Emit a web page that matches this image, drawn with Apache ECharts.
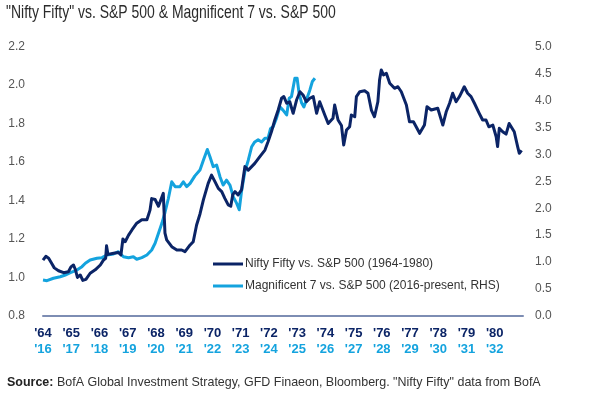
<!DOCTYPE html>
<html>
<head>
<meta charset="utf-8">
<script src="https://cdn.jsdelivr.net/npm/echarts@6/dist/echarts.min.js"></script>
<style>
html,body{margin:0;padding:0;background:#fff;}
#chart{width:590px;height:397px;}
</style>
</head>
<body>
<div id="chart"></div>
<script>
// ---- data ----
const niftyDates = [1964.00,1964.10,1964.20,1964.30,1964.40,1964.55,1964.73,1964.90,1964.99,1965.08,1965.15,1965.22,1965.32,1965.41,1965.52,1965.67,1965.85,1966.03,1966.14,1966.22,1966.25,1966.30,1966.50,1966.67,1966.76,1966.83,1966.91,1967.03,1967.15,1967.32,1967.50,1967.68,1967.79,1967.85,1967.97,1968.09,1968.15,1968.26,1968.32,1968.38,1968.56,1968.74,1968.91,1969.03,1969.21,1969.32,1969.44,1969.56,1969.68,1969.85,1969.97,1970.09,1970.21,1970.33,1970.44,1970.56,1970.65,1970.72,1970.80,1970.91,1971.03,1971.15,1971.27,1971.39,1971.50,1971.68,1971.86,1971.97,1972.09,1972.21,1972.33,1972.45,1972.53,1972.63,1972.74,1972.86,1972.98,1973.10,1973.21,1973.33,1973.45,1973.57,1973.69,1973.80,1973.98,1974.10,1974.27,1974.33,1974.45,1974.57,1974.65,1974.75,1974.86,1974.92,1975.04,1975.10,1975.22,1975.39,1975.51,1975.63,1975.74,1975.86,1975.92,1975.98,1976.06,1976.16,1976.28,1976.45,1976.57,1976.69,1976.87,1976.98,1977.12,1977.34,1977.51,1977.60,1977.75,1977.98,1978.04,1978.16,1978.28,1978.40,1978.51,1978.63,1978.75,1978.92,1979.04,1979.16,1979.28,1979.45,1979.57,1979.69,1979.79,1979.93,1980.05,1980.10,1980.16,1980.28,1980.40,1980.51,1980.69,1980.81,1980.87,1980.95];
const niftyValues = [1.09,1.11,1.10,1.075,1.05,1.035,1.025,1.03,1.055,1.065,1.04,1.00,1.013,0.985,0.99,1.022,1.04,1.065,1.09,1.10,1.165,1.12,1.126,1.13,1.117,1.20,1.186,1.22,1.247,1.282,1.30,1.30,1.35,1.41,1.405,1.37,1.377,1.437,1.23,1.195,1.16,1.143,1.143,1.134,1.169,1.186,1.273,1.33,1.403,1.489,1.532,1.498,1.463,1.446,1.411,1.377,1.37,1.43,1.446,1.429,1.455,1.576,1.558,1.576,1.593,1.628,1.662,1.705,1.757,1.818,1.87,1.931,1.94,1.905,1.913,1.853,1.922,1.965,1.948,1.913,1.931,1.94,1.853,1.913,1.844,1.80,1.827,1.896,1.818,1.79,1.688,1.766,1.783,1.844,1.835,1.94,1.965,1.97,1.957,1.87,1.835,1.913,2.026,2.078,2.052,2.061,2.009,1.983,1.991,1.965,1.896,1.809,1.809,1.749,1.792,1.887,1.87,1.879,1.87,1.792,1.861,1.905,1.957,1.913,1.94,1.991,1.957,1.94,1.905,1.853,1.818,1.818,1.783,1.792,1.731,1.68,1.775,1.757,1.745,1.80,1.757,1.68,1.645,1.66];

const mag7Dates = [2016.00,2016.14,2016.37,2016.61,2016.79,2016.97,2017.20,2017.38,2017.50,2017.67,2017.91,2018.09,2018.26,2018.50,2018.67,2018.85,2019.03,2019.20,2019.32,2019.50,2019.68,2019.85,2019.97,2020.09,2020.21,2020.32,2020.44,2020.56,2020.68,2020.85,2020.97,2021.09,2021.21,2021.38,2021.56,2021.68,2021.82,2021.91,2022.03,2022.15,2022.27,2022.38,2022.50,2022.62,2022.74,2022.86,2022.95,2023.03,2023.15,2023.27,2023.39,2023.50,2023.62,2023.74,2023.86,2023.97,2024.06,2024.15,2024.27,2024.39,2024.50,2024.63,2024.72,2024.80,2024.92,2025.00,2025.07,2025.16,2025.24,2025.33,2025.45,2025.54,2025.63];
const mag7Values = [0.668,0.655,0.70,0.729,0.76,0.803,0.853,0.915,0.978,1.039,1.07,1.082,1.132,1.15,1.193,1.10,1.082,1.10,1.052,1.082,1.132,1.225,1.349,1.534,1.72,1.92,2.18,2.49,2.40,2.40,2.49,2.40,2.46,2.60,2.71,2.89,3.09,2.96,2.77,2.80,2.58,2.43,2.52,2.43,2.21,2.09,1.97,2.31,2.68,2.89,3.14,3.23,3.27,3.23,3.30,3.30,3.48,3.51,3.67,3.88,3.82,3.73,4.04,4.07,4.41,4.41,4.13,3.95,3.88,4.01,4.19,4.35,4.41];

const niftyTickLabels = ["'64","'65","'66","'67","'68","'69","'70","'71","'72","'73","'74","'75","'76","'77","'78","'79","'80"];
const mag7TickLabels  = ["'16","'17","'18","'19","'20","'21","'22","'23","'24","'25","'26","'27","'28","'29","'30","'31","'32"];

const titleText = '"Nifty Fifty" vs. S&P 500 & Magnificent 7 vs. S&P 500';
const seriesNames = ['Nifty Fifty vs. S&P 500 (1964-1980)', 'Magnificent 7 vs. S&P 500 (2016-present, RHS)'];
const sourceText = 'BofA Global Investment Strategy, GFD Finaeon, Bloomberg. "Nifty Fifty" data from BofA';

// ---- styling ----
const NAVY = '#0b2466';
const LIGHT = '#14a3de';
const FONT = '"Liberation Sans",Arial,sans-serif';

const chart = echarts.init(document.getElementById('chart'), null, {renderer: 'canvas'});
chart.setOption({
  backgroundColor: '#fff',
  animation: false,
  textStyle: {fontFamily: FONT},
  legend: {
    orient: 'vertical',
    left: 208, top: 253,
    itemWidth: 30, itemHeight: 3, itemGap: 10,
    icon: 'rect',
    textStyle: {fontFamily: FONT, fontSize: 12, color: '#333', padding: [0,0,0,-3]},
    data: seriesNames
  },
  grid: {left: 43, right: 67, top: 46.5, bottom: 81},
  xAxis: [
    {
      type: 'value', min: 1964, max: 1981, interval: 1,
      axisLine: {show: true, lineStyle: {color: '#7d8db3', width: 2}},
      axisTick: {show: false},
      splitLine: {show: false},
      axisLabel: {
        margin: 11, color: NAVY, fontSize: 13, fontWeight: 'bold', fontFamily: FONT,
        formatter: v => niftyTickLabels[Math.round(v - 1964)] || ''
      }
    },
    {
      type: 'value', min: 2016, max: 2033, interval: 1, position: 'bottom', offset: 16,
      axisLine: {show: false}, axisTick: {show: false}, splitLine: {show: false},
      axisLabel: {
        margin: 11, color: LIGHT, fontSize: 13, fontWeight: 'bold', fontFamily: FONT,
        formatter: v => mag7TickLabels[Math.round(v - 2016)] || ''
      }
    }
  ],
  yAxis: [
    {
      type: 'value', min: 0.8, max: 2.2, interval: 0.2, position: 'left',
      axisLine: {show: false}, axisTick: {show: false}, splitLine: {show: false},
      axisLabel: {margin: 18, color: '#555', fontSize: 12, fontFamily: FONT, formatter: v => v.toFixed(1)}
    },
    {
      type: 'value', min: 0, max: 5, interval: 0.5, position: 'right',
      axisLine: {show: false}, axisTick: {show: false}, splitLine: {show: false},
      axisLabel: {margin: 12, color: '#555', fontSize: 12, fontFamily: FONT, formatter: v => v.toFixed(1)}
    }
  ],
  series: [
    {
      name: seriesNames[0], type: 'line', xAxisIndex: 0, yAxisIndex: 0,
      showSymbol: false, symbol: 'none', color: NAVY,
      lineStyle: {color: NAVY, width: 3, join: 'round'},
      data: niftyDates.map((d, i) => [d, niftyValues[i]]),
      z: 3
    },
    {
      name: seriesNames[1], type: 'line', xAxisIndex: 1, yAxisIndex: 1,
      showSymbol: false, symbol: 'none', color: LIGHT,
      lineStyle: {color: LIGHT, width: 3, join: 'round'},
      data: mag7Dates.map((d, i) => [d, mag7Values[i]]),
      z: 2
    }
  ],
  graphic: [
    {
      type: 'text', x: 6, y: 3, scaleX: 0.735, scaleY: 1,
      style: {
        text: titleText,
        fontSize: 19, fontFamily: FONT, fill: '#2b2b2b'
      }
    },
    {
      type: 'text', x: 7, y: 376, scaleX: 0.96, scaleY: 1,
      style: {
        text: '{b|Source:} ' + sourceText,
        rich: {b: {fontWeight: 'bold', fontSize: 13, fontFamily: FONT, fill: '#222'}},
        fontSize: 13, fontFamily: FONT, fill: '#333'
      }
    }
  ]
});
</script>
</body>
</html>
